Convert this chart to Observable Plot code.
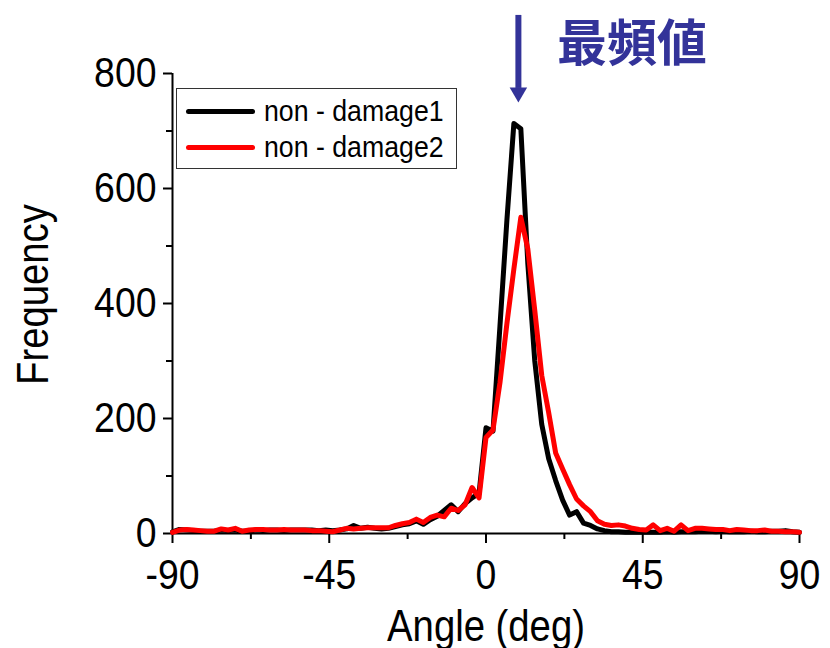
<!DOCTYPE html>
<html><head><meta charset="utf-8">
<script src="https://cdn.jsdelivr.net/npm/d3@7"></script>
<script src="https://cdn.jsdelivr.net/npm/@observablehq/plot@0.6"></script>
<style>
body{margin:0;background:#fff;}
#wrap{position:relative;width:830px;height:648px;overflow:hidden;}
#legend{position:absolute;left:176px;top:88px;width:279px;height:79px;border:1.5px solid #333;background:#fff;
 font-family:'Liberation Sans Narrow','Arial Narrow','Liberation Sans',Arial,sans-serif;font-size:30px;color:#000;}
.lrow{position:absolute;left:0;height:0;}
.lline{position:absolute;left:9px;width:69px;height:5px;border-radius:3px;top:-2.5px;}
.ltext{position:absolute;left:87px;top:-18px;line-height:36px;white-space:pre;transform:scaleX(0.89);transform-origin:0 50%;}
</style></head>
<body><div id="wrap"></div>
<script>
const angles = [-90,-88,-86,-84,-82,-80,-78,-76,-74,-72,-70,-68,-66,-64,-62,-60,-58,-56,-54,-52,-50,-48,-46,-44,-42,-40,-38,-36,-34,-32,-30,-28,-26,-24,-22,-20,-18,-16,-14,-12,-10,-8,-6,-4,-2,0,2,4,6,8,10,12,14,16,18,20,22,24,26,28,30,32,34,36,38,40,42,44,46,48,50,52,54,56,58,60,62,64,66,68,70,72,74,76,78,80,82,84,86,88,90];
const nonDamage1 = [3,7,6,5,4,4,4,6,5,6,4,4,6,5,6,6,5,6,6,6,6,5,6,5,6,8,14,9,11,9,8,9,12,15,17,22,16,24,30,40,50,38,52,62,70,184,178,360,545,713,704,470,300,190,130,92,58,32,38,18,14,8,5,3,3,2,2,2,2,2,2,3,2,3,3,3,4,4,3,4,3,3,3,4,3,3,4,4,5,3,2];
const nonDamage2 = [2,6,7,6,5,4,4,8,6,9,4,6,7,7,6,6,7,6,6,6,5,5,4,3,6,9,8,9,10,10,10,10,14,17,19,25,19,28,32,29,44,40,50,80,62,167,180,262,365,460,550,495,388,275,210,140,112,85,60,48,38,22,16,14,15,13,9,7,6,15,5,9,4,15,5,9,9,8,7,7,5,7,6,5,5,6,4,4,3,3,2];
const seriesNames = ["non - damage1", "non - damage2"];
const seriesColors = ["#000000", "#ff0000"];
const xTicks = [-90, -45, 0, 45, 90];
const xMinorTicks = [-67.5, -22.5, 22.5, 67.5];
const yTicks = [0, 200, 400, 600, 800];
const yMinorTicks = [100, 300, 500, 700];
const modeAngle = [9.3];
const modeLabel = ["最頻値"];
const xLabel = ["Angle (deg)"];
const yLabel = ["Frequency"];

const FONT = "'Liberation Sans Narrow','Arial Narrow','Liberation Sans',Arial,sans-serif";
const series1 = angles.map((a, i) => ({angle: a, freq: nonDamage1[i]}));
const series2 = angles.map((a, i) => ({angle: a, freq: nonDamage2[i]}));
const blue = "#333399";

const chart = Plot.plot({
  width: 830, height: 648,
  marginLeft: 172, marginRight: 31, marginTop: 73, marginBottom: 115,
  x: {domain: [-90, 90]},
  y: {domain: [0, 800]},
  style: {fontFamily: FONT, background: "#fff", color: "#000", overflow: "visible"},
  marks: [
    Plot.axisX(xTicks, {tickSize: 10, tickPadding: 15, fontSize: 43, strokeWidth: 2, tickFormat: d => String(d), label: null, className: "narrow"}),
    Plot.axisX(xMinorTicks, {tickSize: 6, strokeWidth: 2, tickFormat: () => "", label: null}),
    Plot.axisY(yTicks, {tickSize: 9, tickPadding: 7, fontSize: 43, strokeWidth: 2, tickFormat: d => String(d), label: null, className: "narrow"}),
    Plot.axisY(yMinorTicks, {tickSize: 6, strokeWidth: 2, tickFormat: () => "", label: null}),
    Plot.ruleY([0], {strokeWidth: 2}),
    Plot.ruleX([-90], {strokeWidth: 2}),
    Plot.line(series1, {x: "angle", y: "freq", stroke: seriesColors[0], strokeWidth: 5}),
    Plot.line(series2, {x: "angle", y: "freq", stroke: seriesColors[1], strokeWidth: 5}),
    Plot.ruleX(modeAngle, {y1: 901, y2: 774, stroke: blue, strokeWidth: 6}),
    Plot.dot(modeAngle, {x: d => d, y: 767, symbol: "triangle", rotate: 180, r: 6.5, fill: blue, stroke: "none"}),
    Plot.text(modeLabel, {x: 20.4, y: 849, text: d => d, textAnchor: "start", fontSize: 50, fontWeight: "bold", fill: blue, fontFamily: "'Noto Sans CJK JP',sans-serif"}),
    Plot.text(xLabel, {frameAnchor: "bottom", dy: 93, text: d => d, fontSize: 44, textAnchor: "middle", lineAnchor: "middle", className: "narrow"}),
    Plot.text(yLabel, {frameAnchor: "left", dx: -139, dy: -9, rotate: -90, text: d => d, fontSize: 44, textAnchor: "middle", lineAnchor: "middle", className: "narrow"})
  ]
});
// emulate the condensed sans face of the original (no narrow font installed)
chart.querySelectorAll(".narrow text").forEach(t => {
  const tr = t.getAttribute("transform");
  if (tr) {
    t.setAttribute("transform", tr + " scale(0.87,1)");
  } else {
    const x = +(t.getAttribute("x") || 0), y = +(t.getAttribute("y") || 0);
    t.removeAttribute("x"); t.removeAttribute("y");
    t.setAttribute("transform", `translate(${x},${y}) scale(0.87,1)`);
  }
});
const wrap = document.getElementById("wrap");
wrap.appendChild(chart);

const legend = document.createElement("div");
legend.id = "legend";
seriesNames.forEach((name, i) => {
  const row = document.createElement("div");
  row.className = "lrow";
  row.style.top = (22 + i * 36) + "px";
  const line = document.createElement("div");
  line.className = "lline";
  line.style.background = seriesColors[i];
  const txt = document.createElement("div");
  txt.className = "ltext";
  txt.textContent = name;
  row.appendChild(line); row.appendChild(txt);
  legend.appendChild(row);
});
wrap.appendChild(legend);
</script>
</body></html>
